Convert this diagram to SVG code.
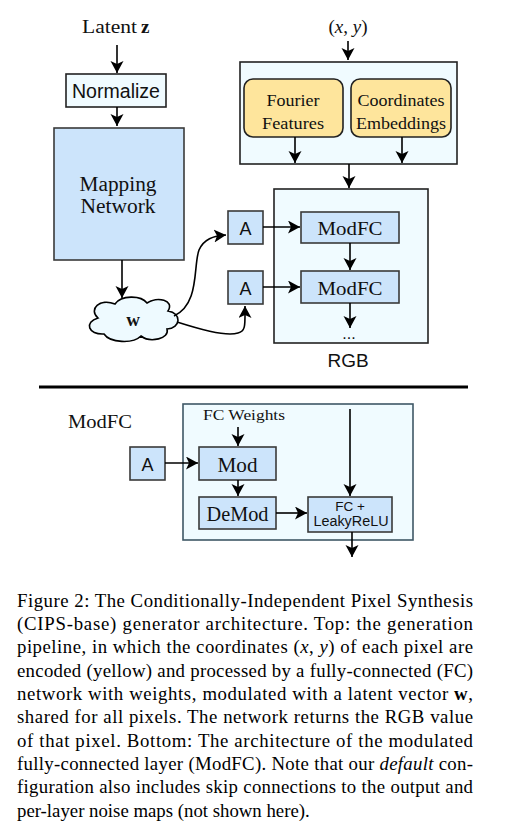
<svg xmlns="http://www.w3.org/2000/svg" width="516" height="836" viewBox="0 0 516 836">
<defs>
<style>
.serif{font-family:"Liberation Serif","Times New Roman",serif;fill:#111}
.sans{font-family:"Liberation Sans",Arial,sans-serif;fill:#111}
.blue{fill:#cce4fb;stroke:#3a3a3a;stroke-width:1.6}
.pale{fill:#f0fbff;stroke:#222;stroke-width:1.6}
.yel{fill:#fee59c;stroke:#222;stroke-width:1.6}
.ln{fill:none;stroke:#000;stroke-width:1.6;marker-end:url(#ah)}
.cap{font-family:"Liberation Serif","Times New Roman",serif;font-size:18.8px;fill:#000}
</style>
<marker id="ah" markerWidth="14" markerHeight="14" refX="12" refY="6.5" orient="auto" markerUnits="userSpaceOnUse">
<path d="M0,0 L12,6.5 L0,13 L3,6.5 z" fill="#000"/>
</marker>
</defs>
<rect width="516" height="836" fill="#fff"/>

<g id="latent"><text class="serif" x="82" y="33" font-size="19" textLength="55" lengthAdjust="spacingAndGlyphs">Latent</text><text class="serif" x="141" y="33" font-size="19" font-weight="bold">z</text></g>
<g id="xy"><text class="serif" x="348" y="33" font-size="19" text-anchor="middle">(<tspan font-style="italic">x</tspan>, <tspan font-style="italic">y</tspan>)</text></g>

<g id="normalize"><rect x="66" y="74" width="100" height="33" fill="#f0fbff" stroke="#222" stroke-width="1.6"/><text class="sans" x="116" y="98" font-size="19.5" text-anchor="middle" textLength="88" lengthAdjust="spacingAndGlyphs">Normalize</text></g>

<g id="mapping"><rect class="blue" x="54" y="128" width="130" height="132"/><text class="serif" x="118" y="191" font-size="20" text-anchor="middle" textLength="77" lengthAdjust="spacingAndGlyphs">Mapping</text><text class="serif" x="118" y="213" font-size="20" text-anchor="middle" textLength="75" lengthAdjust="spacingAndGlyphs">Network</text></g>

<g id="w"><path d="M104,334 C88,335 84,322 98,318 C88,309 100,298 115,304 C121,295 141,295 147,303 C157,296 175,300 168,311 C182,313 181,328 167,329 C170,339 150,343 141,336 C133,344 110,343 104,334 Z" fill="#eefaff" stroke="#000" stroke-width="1.6"/><text class="serif" x="133" y="326" font-size="19" font-weight="bold" text-anchor="middle">w</text></g>

<g id="encoder"><rect class="pale" x="240" y="62" width="217" height="102"/></g>
<g id="fourier"><rect class="yel" x="244" y="79" width="99" height="58" rx="9"/><text class="serif" x="293" y="106" font-size="16" text-anchor="middle" textLength="53" lengthAdjust="spacingAndGlyphs">Fourier</text><text class="serif" x="293" y="129" font-size="16" text-anchor="middle" textLength="62" lengthAdjust="spacingAndGlyphs">Features</text></g>
<g id="coords"><rect class="yel" x="351" y="79" width="100" height="58" rx="9"/><text class="serif" x="401" y="106" font-size="16" text-anchor="middle" textLength="87" lengthAdjust="spacingAndGlyphs">Coordinates</text><text class="serif" x="401" y="129" font-size="16" text-anchor="middle" textLength="90" lengthAdjust="spacingAndGlyphs">Embeddings</text></g>

<g id="rgbbox"><rect class="pale" x="274" y="189" width="154" height="154"/><text class="sans" x="349" y="339" font-size="16" text-anchor="middle">...</text><text class="sans" x="348" y="367" font-size="19" text-anchor="middle">RGB</text></g>
<g id="a1"><rect class="blue" x="228" y="211" width="35" height="33"/><text class="sans" x="245.5" y="235" font-size="18" text-anchor="middle">A</text></g>
<g id="a2"><rect class="blue" x="228" y="271" width="35" height="33"/><text class="sans" x="245.5" y="295" font-size="18" text-anchor="middle">A</text></g>
<g id="modfc1"><rect class="blue" x="301" y="212" width="98" height="31"/><text class="serif" x="350" y="235" font-size="19" text-anchor="middle" textLength="65" lengthAdjust="spacingAndGlyphs">ModFC</text></g>
<g id="modfc2"><rect class="blue" x="301" y="271" width="98" height="32"/><text class="serif" x="350" y="295" font-size="19" text-anchor="middle" textLength="65" lengthAdjust="spacingAndGlyphs">ModFC</text></g>

<line x1="39" y1="387" x2="468" y2="387" stroke="#000" stroke-width="3"/>

<g id="modfc-label"><text class="serif" x="68" y="428" font-size="18" textLength="64" lengthAdjust="spacingAndGlyphs">ModFC</text></g>
<g id="modfc-box"><rect x="183" y="404" width="230" height="136" fill="#f0fbff" stroke="#3f5866" stroke-width="1.6"/><text class="serif" x="244" y="420" font-size="15" text-anchor="middle" textLength="82" lengthAdjust="spacingAndGlyphs">FC Weights</text></g>
<g id="a3"><rect class="blue" x="130" y="447" width="35" height="33"/><text class="sans" x="147.5" y="471" font-size="18" text-anchor="middle">A</text></g>
<g id="mod"><rect class="blue" x="199" y="447" width="77" height="33"/><text class="serif" x="237.5" y="472" font-size="22" text-anchor="middle" textLength="40" lengthAdjust="spacingAndGlyphs">Mod</text></g>
<g id="demod"><rect class="blue" x="199" y="497" width="77" height="32"/><text class="serif" x="237.5" y="521" font-size="21" text-anchor="middle" textLength="62" lengthAdjust="spacingAndGlyphs">DeMod</text></g>
<g id="fc"><rect class="blue" x="308" y="497" width="84" height="35"/><text class="sans" x="350" y="511" font-size="13.5" text-anchor="middle">FC +</text><text class="sans" x="351" y="526" font-size="14" text-anchor="middle" textLength="75" lengthAdjust="spacingAndGlyphs">LeakyReLU</text></g>

<g id="connectors">
<line class="ln" x1="117" y1="45" x2="117" y2="73"/>
<line class="ln" x1="117" y1="107" x2="117" y2="126"/>
<line class="ln" x1="122" y1="260" x2="122" y2="298"/>
<line class="ln" x1="348" y1="41" x2="348" y2="60"/>
<line class="ln" x1="295" y1="137" x2="295" y2="163"/>
<line class="ln" x1="402" y1="137" x2="402" y2="163"/>
<line class="ln" x1="349" y1="164" x2="349" y2="188"/>
<path class="ln" d="M174,316 C200,304 193,266 199,250 C204,239 213,236 226,235"/>
<path class="ln" d="M177,322 C196,328 225,337 238,333 C246,331 245,325 245,306"/>
<line class="ln" x1="263" y1="227" x2="300" y2="227"/>
<line class="ln" x1="263" y1="287" x2="300" y2="287"/>
<line class="ln" x1="350" y1="243" x2="350" y2="270"/>
<line class="ln" x1="350" y1="303" x2="350" y2="328"/>
<line class="ln" x1="238" y1="427" x2="238" y2="446"/>
<line class="ln" x1="165" y1="463" x2="198" y2="463"/>
<line class="ln" x1="238" y1="480" x2="238" y2="496"/>
<line class="ln" x1="276" y1="513" x2="307" y2="513"/>
<line class="ln" x1="350" y1="409" x2="350" y2="496"/>
<line class="ln" x1="352" y1="532" x2="352" y2="557"/>
</g>

<g id="caption">
<text class="cap" x="17" y="607" textLength="456" lengthAdjust="spacing">Figure 2:  The Conditionally-Independent Pixel Synthesis</text>
<text class="cap" x="17" y="630" textLength="456" lengthAdjust="spacing">(CIPS-base) generator architecture.  Top:  the generation</text>
<text class="cap" x="17" y="653" textLength="456" lengthAdjust="spacing">pipeline, in which the coordinates (<tspan font-style="italic">x</tspan>, <tspan font-style="italic">y</tspan>) of each pixel are</text>
<text class="cap" x="17" y="677" textLength="456" lengthAdjust="spacing">encoded (yellow) and processed by a fully-connected (FC)</text>
<text class="cap" x="17" y="700" textLength="456" lengthAdjust="spacing">network with weights, modulated with a latent vector <tspan font-weight="bold">w</tspan>,</text>
<text class="cap" x="17" y="723" textLength="456" lengthAdjust="spacing">shared for all pixels.  The network returns the RGB value</text>
<text class="cap" x="17" y="747" textLength="456" lengthAdjust="spacing">of that pixel.  Bottom:  The architecture of the modulated</text>
<text class="cap" x="17" y="770" textLength="456" lengthAdjust="spacing">fully-connected layer (ModFC). Note that our <tspan font-style="italic">default</tspan> con-</text>
<text class="cap" x="17" y="793" textLength="456" lengthAdjust="spacing">figuration also includes skip connections to the output and</text>
<text class="cap" x="17" y="817">per-layer noise maps (not shown here).</text>
</g>
</svg>
